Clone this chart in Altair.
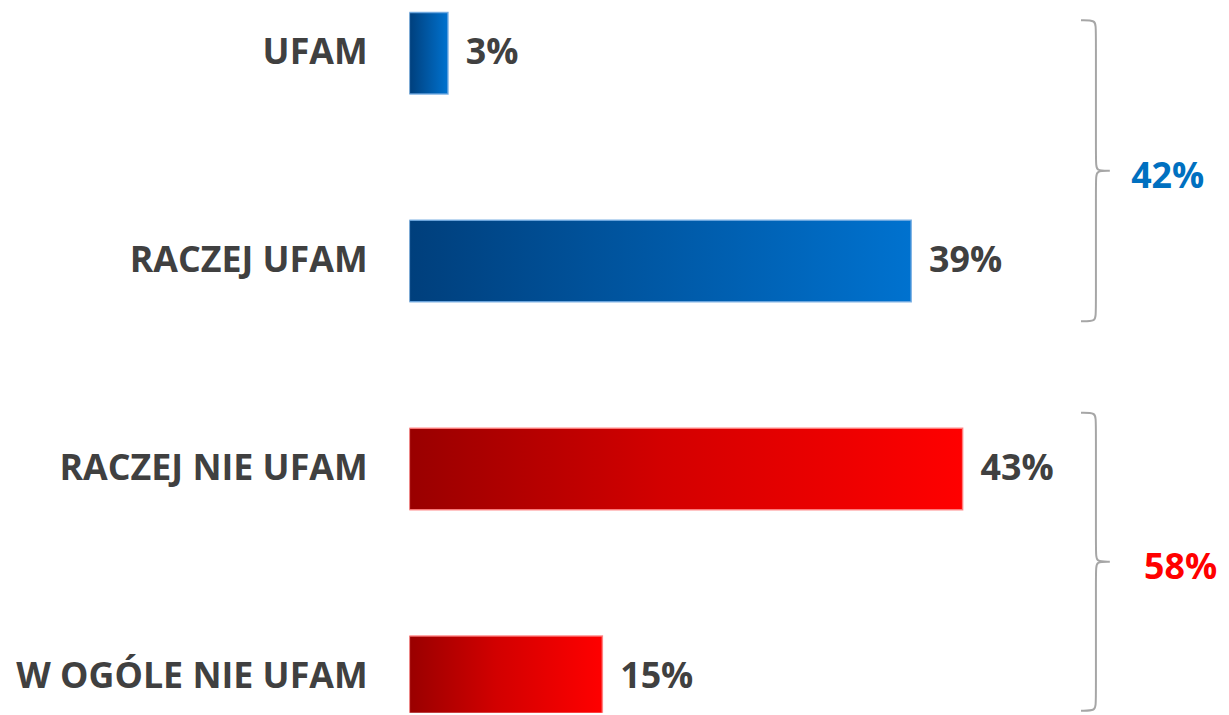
import altair as alt
import pandas as pd

# ---- data ----
categories = ["UFAM", "RACZEJ UFAM", "RACZEJ NIE UFAM", "W OGÓLE NIE UFAM"]
values = [3, 39, 43, 15]
groups = ["trust", "trust", "distrust", "distrust"]
group_names = ["trust", "distrust"]
group_totals = ["42%", "58%"]
# brace spans in category-slot units (slot i is centred on i)
brace_start = [-0.158, 1.73]
brace_end = [1.29, 3.163]
brace_tip = [0.566, 2.446]
total_label_x = [56.1, 57.1]

# ---- layout ----
W = 803
H_FULL = 714          # height the four bands would need
H_VIEW = 707          # visible height (bottom band is cut, as in the original)
PAD_L, PAD_R = 404, 14
X_MAX = 62
P_IN, P_OUT = 0.608, 0.01
STEP = H_FULL / (len(categories) - P_IN + 2 * P_OUT)
C0 = STEP * P_OUT + STEP * (1 - P_IN) / 2
SLOT_DOMAIN = [-C0 / STEP, (H_VIEW - C0) / STEP]

FONT = "Open Sans"
GRAY = "#404040"
BLUE = "#0070C0"
RED = "#FF0000"

df = pd.DataFrame({
    "cat": categories,
    "val": values,
    "grp": groups,
    "lbl": [f"{v}%" for v in values],
})

xs = alt.Scale(domain=[0, X_MAX], nice=False, zero=True)
ys = alt.Scale(domain=categories, paddingInner=P_IN, paddingOuter=P_OUT,
               range=[0, H_FULL])

base = alt.Chart(df)

blue_grad = {"gradient": "linear", "x1": 0, "x2": 1, "y1": 0, "y2": 0,
             "stops": [{"offset": 0, "color": "#003F7C"},
                       {"offset": 1, "color": "#0072CF"}]}
red_grad = {"gradient": "linear", "x1": 0, "x2": 1, "y1": 0, "y2": 0,
            "stops": [{"offset": 0, "color": "#990000"},
                      {"offset": 0.45, "color": "#D20000"},
                      {"offset": 1, "color": "#FF0000"}]}

bars_blue = base.transform_filter(alt.datum.grp == "trust").mark_bar(
    stroke="#6FA8E0", strokeWidth=1.5, strokeOpacity=0.9, clip=True
).encode(
    x=alt.X("val:Q", scale=xs, axis=None),
    y=alt.Y("cat:N", scale=ys, axis=None),
    color=alt.value(blue_grad),
)
bars_red = base.transform_filter(alt.datum.grp == "distrust").mark_bar(
    stroke="#FF8080", strokeWidth=1.5, strokeOpacity=0.9, clip=True
).encode(
    x=alt.X("val:Q", scale=xs, axis=None),
    y=alt.Y("cat:N", scale=ys, axis=None),
    color=alt.value(red_grad),
)

val_text = base.mark_text(
    align="left", baseline="middle", dx=18, font=FONT, fontSize=36,
    fontWeight="bold", color=GRAY
).encode(
    x=alt.X("val:Q", scale=xs, axis=None),
    y=alt.Y("cat:N", scale=ys, axis=None),
    text="lbl:N",
)

cat_text = base.mark_text(
    align="right", baseline="middle", font=FONT, fontSize=36,
    fontWeight="bold", color=GRAY
).encode(
    x=alt.value(-42),
    y=alt.Y("cat:N", scale=ys, axis=None),
    text="cat:N",
)

bar_layer = alt.layer(bars_blue, bars_red, val_text, cat_text)

# ---- braces ----
XV, XA, XT = 53.36, 52.2, 54.44
R = 0.035
rows = []
for g, y0, y1, m in zip(group_names, brace_start, brace_end, brace_tip):
    pts = [(XA, y0), (XV, y0), (XV, y0 + R), (XV, m - R), (XV, m),
           (XT, m), (XT, m), (XT, m), (XV, m), (XV, m + R),
           (XV, y1 - R), (XV, y1), (XA, y1)]
    for i, (px, py) in enumerate(pts):
        rows.append({"grp": g, "x": px, "s": py, "o": i})
brace_df = pd.DataFrame(rows)

ss = alt.Scale(domain=SLOT_DOMAIN, reverse=True, nice=False, zero=False)

braces = alt.Chart(brace_df).mark_line(
    interpolate="basis", color="#A6A6A6", strokeWidth=2, clip=True
).encode(
    x=alt.X("x:Q", scale=xs, axis=None),
    y=alt.Y("s:Q", scale=ss, axis=None),
    detail="grp:N",
    order="o:Q",
)

tot_df = pd.DataFrame({"grp": group_names, "lbl": group_totals,
                       "x": total_label_x, "s": [m + 0.03 for m in brace_tip]})
totals = alt.Chart(tot_df).mark_text(
    align="left", baseline="middle", font=FONT, fontSize=36, fontWeight="bold"
).encode(
    x=alt.X("x:Q", scale=xs, axis=None),
    y=alt.Y("s:Q", scale=ss, axis=None),
    text="lbl:N",
    color=alt.Color("grp:N", scale=alt.Scale(domain=group_names, range=[BLUE, RED]),
                    legend=None),
)

brace_layer = alt.layer(braces, totals)

chart = alt.layer(bar_layer, brace_layer).resolve_scale(
    y="independent"
).properties(
    width=W, height=H_VIEW,
    padding={"left": PAD_L, "right": PAD_R, "top": 0, "bottom": 0},
    autosize=alt.AutoSizeParams(type="none"),
).configure_view(stroke=None)

chart.save("out.html", embed_options={"renderer": "svg", "actions": False})
